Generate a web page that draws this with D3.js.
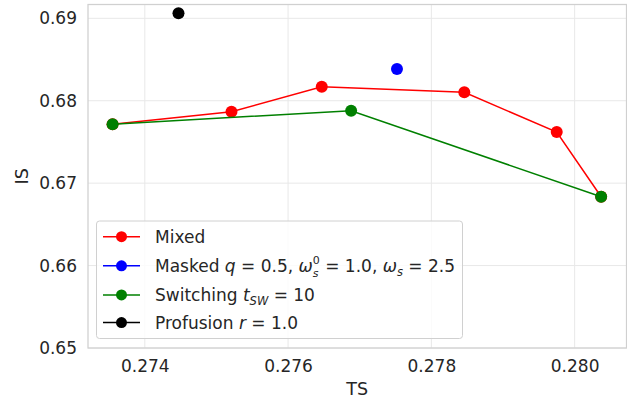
<!DOCTYPE html>
<html>
<head>
<meta charset="utf-8">
<script src="https://cdn.jsdelivr.net/npm/d3@7"></script>
<style>
  html, body { margin: 0; padding: 0; background: #fff; }
  svg { display: block; font-family: "DejaVu Sans", sans-serif; }
</style>
</head>
<body>
<svg id="chart" width="627" height="398"></svg>
<script>
// Trade-off between TS and IS for each strategy
const mixedTS = [0.27355, 0.27521, 0.27647, 0.27846, 0.27975, 0.28037];
const mixedIS = [0.67714, 0.67867, 0.68170, 0.68102, 0.67620, 0.66835];
const maskedTS = [0.27752];
const maskedIS = [0.68385];
const switchingTS = [0.27355, 0.27688, 0.28037];
const switchingIS = [0.67714, 0.67879, 0.66835];
const profusionTS = [0.27447];
const profusionIS = [0.69060];

const xTicks = [0.274, 0.276, 0.278, 0.280];
const yTicks = [0.65, 0.66, 0.67, 0.68, 0.69];

const seriesNames = ["Mixed", "Masked", "Switching", "Profusion"];
const seriesColors = ["#ff0000", "#0000ff", "#008000", "#000000"];

const plot = { left: 88, right: 626.5, top: 4.5, bottom: 348 };
const textColor = "#262626";

const x = d3.scaleLinear().domain([0.273207, 0.280724]).range([plot.left, plot.right]);
const y = d3.scaleLinear().domain([0.65, 0.691674]).range([plot.bottom, plot.top]);

const svg = d3.select("#chart");

// grid
const grid = svg.append("g");
grid.selectAll("line.gx").data(xTicks).enter().append("line")
  .attr("x1", d => x(d)).attr("x2", d => x(d))
  .attr("y1", plot.top).attr("y2", plot.bottom)
  .attr("stroke", "#e8e8e8").attr("stroke-width", 1);
grid.selectAll("line.gy").data(yTicks).enter().append("line")
  .attr("x1", plot.left).attr("x2", plot.right)
  .attr("y1", d => y(d)).attr("y2", d => y(d))
  .attr("stroke", "#e8e8e8").attr("stroke-width", 1);

// frame
svg.append("rect")
  .attr("x", plot.left).attr("y", plot.top)
  .attr("width", plot.right - plot.left).attr("height", plot.bottom - plot.top)
  .attr("fill", "none").attr("stroke", "#d0d0d0").attr("stroke-width", 1.25);

// axes (labels only, no tick marks)
const xAxis = d3.axisBottom(x).tickValues(xTicks).tickFormat(d3.format(".3f")).tickSize(0).tickPadding(12);
const gx = svg.append("g").attr("transform", `translate(0,${plot.bottom})`).call(xAxis);
gx.select(".domain").remove();
gx.selectAll("text").attr("fill", textColor).style("font-size", "17px").style("font-family", "DejaVu Sans");

const yAxis = d3.axisLeft(y).tickValues(yTicks).tickFormat(d3.format(".2f")).tickSize(0).tickPadding(11);
const gy = svg.append("g").attr("transform", `translate(${plot.left},0)`).call(yAxis);
gy.select(".domain").remove();
gy.selectAll("text").attr("fill", textColor).style("font-size", "17px").style("font-family", "DejaVu Sans");

svg.append("text").attr("x", (plot.left + plot.right) / 2).attr("y", 395)
  .attr("text-anchor", "middle").attr("fill", textColor).style("font-size", "17.5px").text("TS");
svg.append("text").attr("transform", `translate(28,${(plot.top + plot.bottom) / 2}) rotate(-90)`)
  .attr("text-anchor", "middle").attr("fill", textColor).style("font-size", "17.5px").text("IS");

// series
const series = [
  { ts: mixedTS, is: mixedIS },
  { ts: maskedTS, is: maskedIS },
  { ts: switchingTS, is: switchingIS },
  { ts: profusionTS, is: profusionIS }
];
const line = d3.line().x(d => x(d[0])).y(d => y(d[1]));
series.forEach((s, i) => {
  const pts = s.ts.map((t, k) => [t, s.is[k]]);
  const g = svg.append("g");
  g.append("path").datum(pts).attr("d", line)
    .attr("fill", "none").attr("stroke", seriesColors[i]).attr("stroke-width", 1.5);
  g.selectAll("circle").data(pts).enter().append("circle")
    .attr("cx", d => x(d[0])).attr("cy", d => y(d[1])).attr("r", 6)
    .attr("fill", seriesColors[i]);
});

// legend
const leg = svg.append("g");
leg.append("rect").attr("x", 96.5).attr("y", 221).attr("width", 366).attr("height", 117.5)
  .attr("rx", 3).attr("fill", "#ffffff").attr("fill-opacity", 0.8)
  .attr("stroke", "#d0d0d0").attr("stroke-width", 1);

const rowY = [236.7, 265.8, 294.9, 322.6];
rowY.forEach((ry, i) => {
  leg.append("line").attr("x1", 103).attr("x2", 140).attr("y1", ry).attr("y2", ry)
    .attr("stroke", seriesColors[i]).attr("stroke-width", 1.5);
  leg.append("circle").attr("cx", 121.5).attr("cy", ry).attr("r", 5.5).attr("fill", seriesColors[i]);
});

// Lays out a label as a run of pieces; each piece: [text, italic, size, dy, stackWithNext]
function legendLabel(i, pieces) {
  const base = rowY[i] + 6;
  let cx = 155;
  let stackX = null;
  pieces.forEach(p => {
    const [txt, italic, size, dy, stack] = p;
    const px = stackX !== null ? stackX : cx;
    const t = leg.append("text").attr("x", px).attr("y", base + dy)
      .attr("fill", textColor).style("font-size", size + "px")
      .attr("font-style", italic ? "italic" : "normal")
      .attr("xml:space", "preserve").style("white-space", "pre")
      .text(txt);
    const w = t.node().getComputedTextLength();
    if (stack) {
      stackX = px;
      cx = px + w;
    } else {
      cx = Math.max(cx, px + w);
      stackX = null;
    }
  });
}

legendLabel(0, [[seriesNames[0], false, 17, 0]]);
legendLabel(1, [
  [seriesNames[1] + " ", false, 17, 0],
  ["q", true, 17, 0],
  [" = 0.5, ", false, 17, 0],
  ["\u03c9", true, 17, 0],
  ["0", false, 11, -7.5, true],
  ["s", true, 11, 5.5],
  [" = 1.0, ", false, 17, 0],
  ["\u03c9", true, 17, 0],
  ["s", true, 11.5, 4.5],
  [" = 2.5", false, 17, 0]
]);
legendLabel(2, [
  [seriesNames[2] + " ", false, 17, 0],
  ["t", true, 17, 0],
  ["SW", true, 11.5, 4.5],
  [" = 10", false, 17, 0]
]);
legendLabel(3, [
  [seriesNames[3] + " ", false, 17, 0],
  ["r", true, 17, 0],
  [" = 1.0", false, 17, 0]
]);
</script>
</body>
</html>
